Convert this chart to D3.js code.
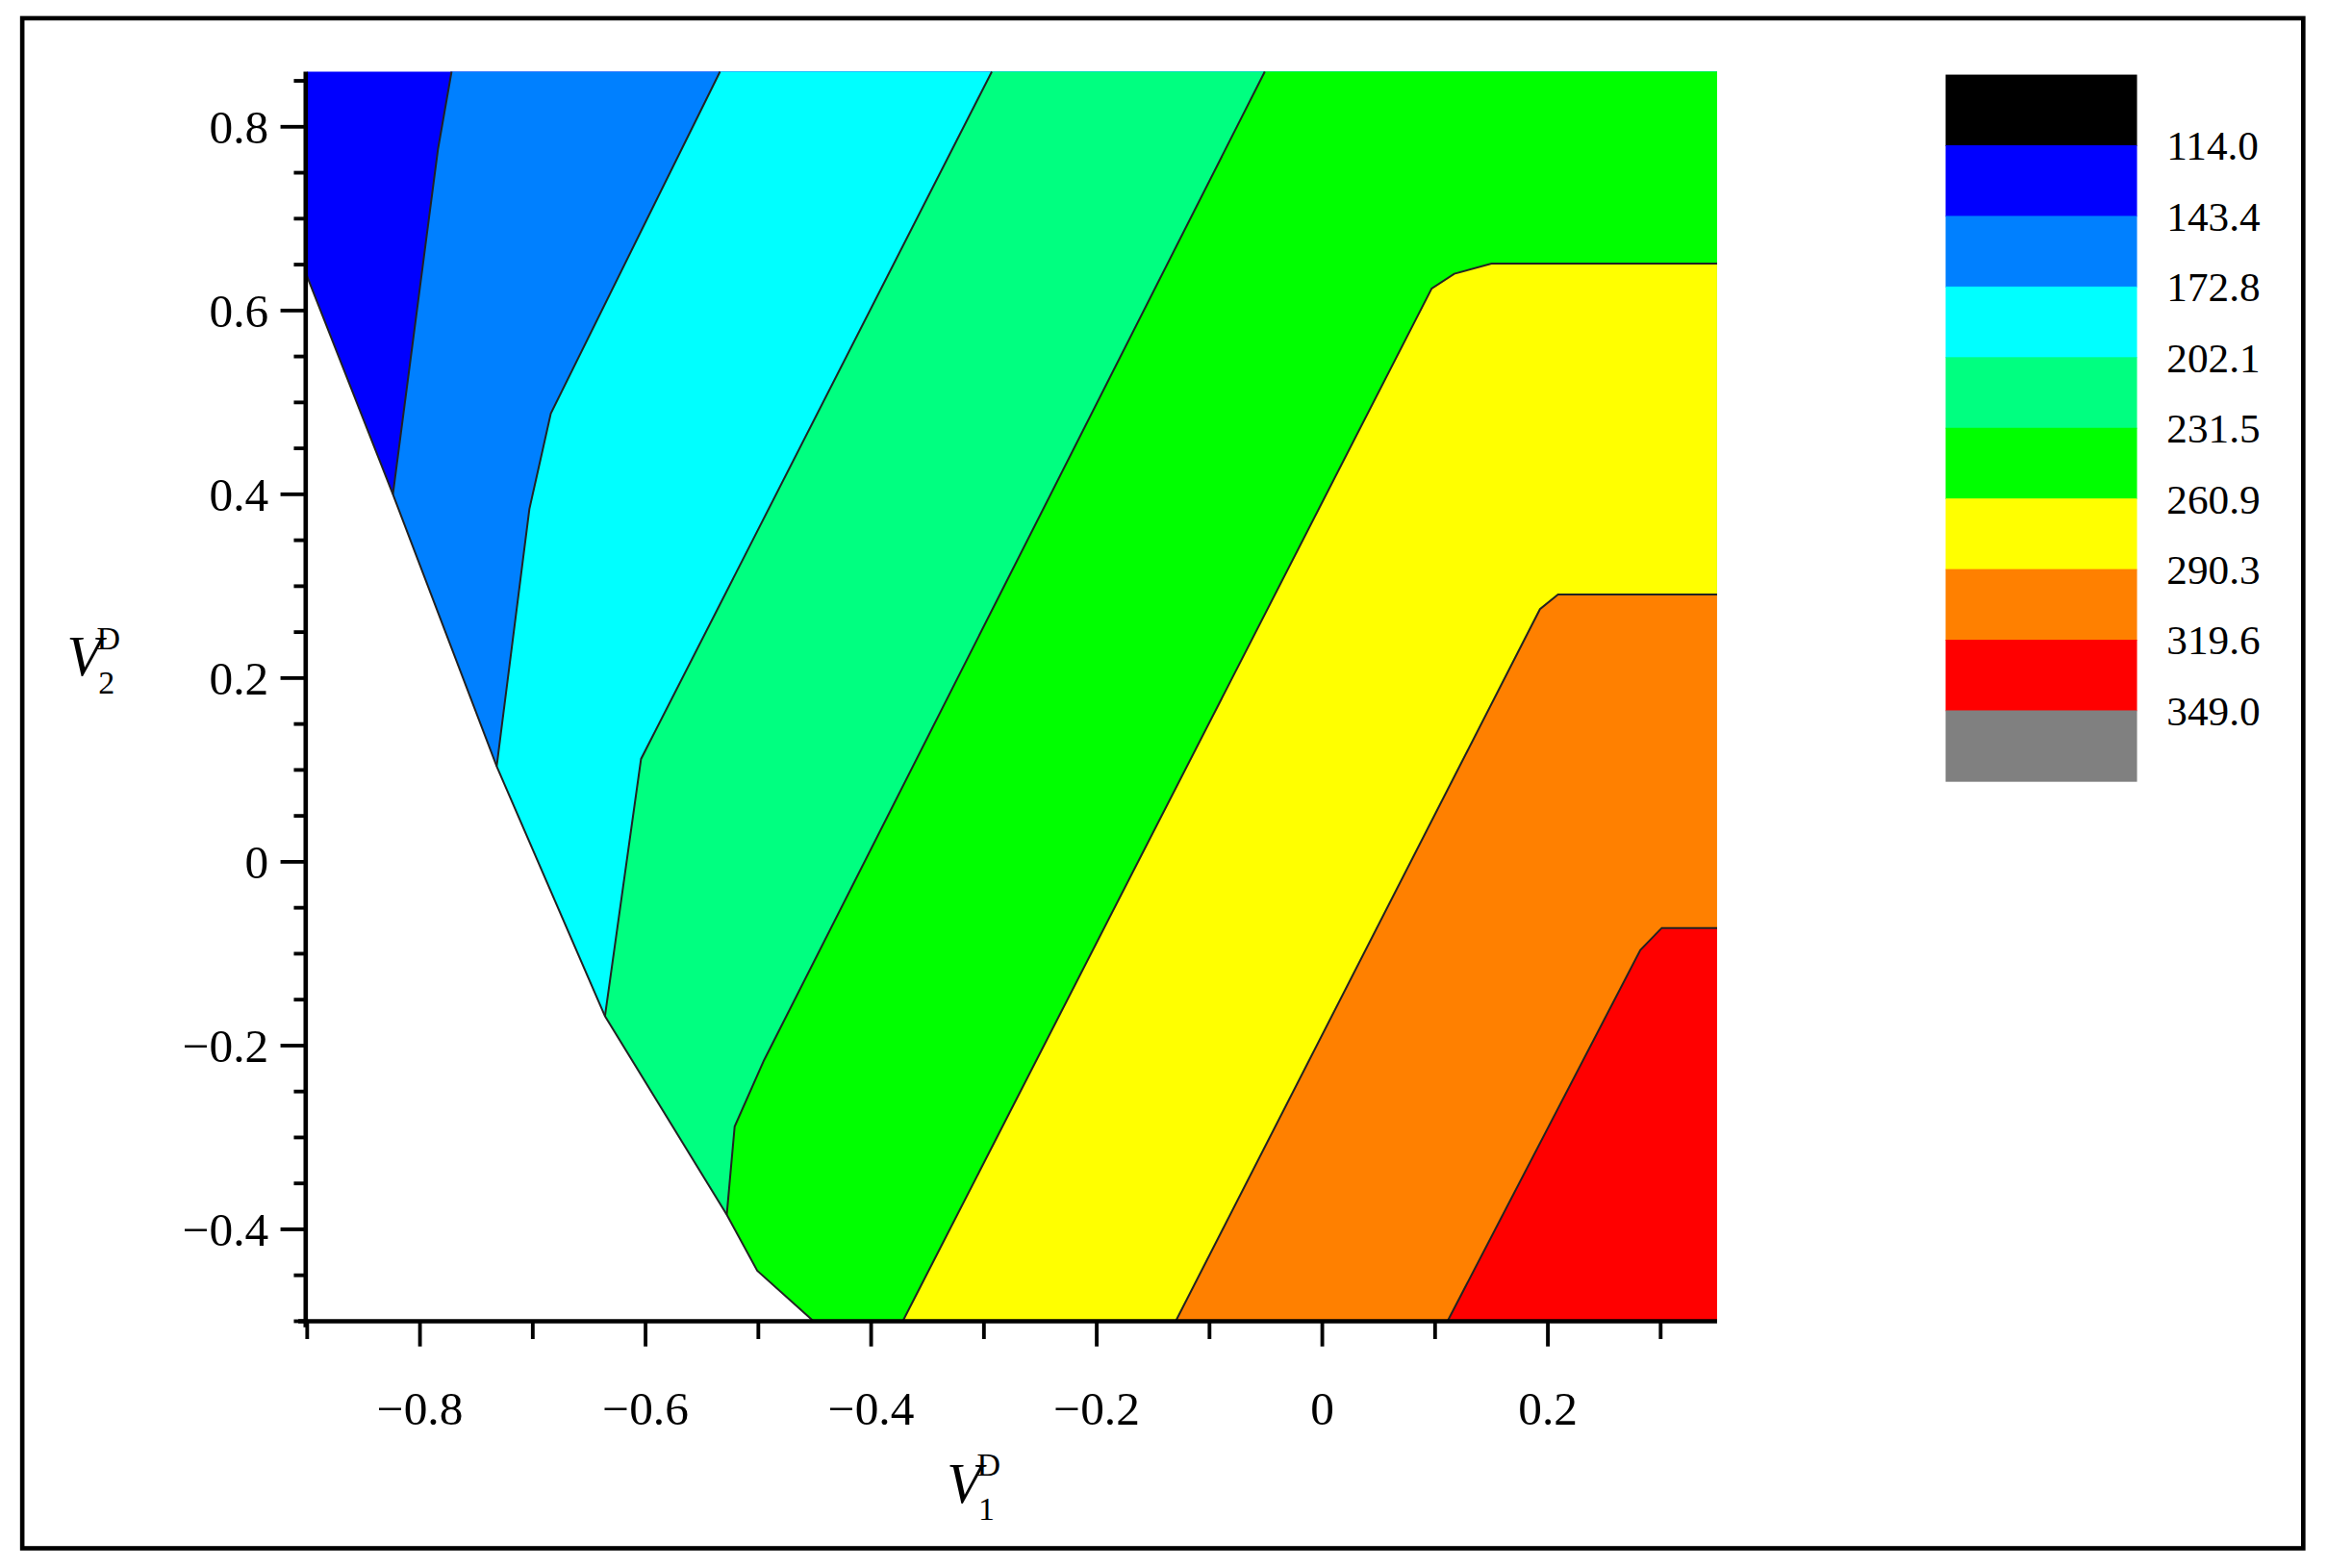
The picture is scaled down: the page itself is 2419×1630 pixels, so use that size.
<!DOCTYPE html>
<html><head><meta charset="utf-8">
<script src="https://cdn.jsdelivr.net/npm/d3@7"></script>
<style>html,body{margin:0;padding:0;background:#fff;}svg{display:block;}</style>
</head><body>
<script>
// Contour boundary polylines (V1, V2)
const feasibleEdge = [[-0.901,0.64],[-0.824,0.40],[-0.732,0.104],[-0.636,-0.168],[-0.528,-0.384],[-0.501,-0.445],[-0.451,-0.5]];
const line1 = [[-0.772,0.86],[-0.784,0.776],[-0.824,0.40]];
const line2 = [[-0.534,0.86],[-0.684,0.488],[-0.703,0.384],[-0.732,0.104]];
const line3 = [[-0.293,0.86],[-0.604,0.112],[-0.636,-0.168]];
const line4 = [[-0.051,0.86],[-0.495,-0.216],[-0.521,-0.288],[-0.528,-0.384]];
const line5 = [[0.35,0.651],[0.15,0.651],[0.117,0.64],[0.097,0.624],[-0.372,-0.5]];
const line6 = [[0.35,0.291],[0.209,0.291],[0.193,0.275],[-0.130,-0.5]];
const line7 = [[0.35,-0.072],[0.301,-0.072],[0.282,-0.096],[0.111,-0.5]];
const contourLines = [line1,line2,line3,line4,line5,line6,line7];
const regionColors = ["#0000ff","#0080ff","#00ffff","#00ff80","#00ff00","#ffff00","#ff8000","#ff0000"];
const legendColors = ["#000000","#0000ff","#0080ff","#00ffff","#00ff80","#00ff00","#ffff00","#ff8000","#ff0000","#808080"];
const legendLabels = ["114.0","143.4","172.8","202.1","231.5","260.9","290.3","319.6","349.0"];
const xTicks = [-0.8,-0.6,-0.4,-0.2,0,0.2];
const yTicks = [-0.4,-0.2,0,0.2,0.4,0.6,0.8];

const W=1568,H=1056;
const svg=d3.select("body").append("svg").attr("width",2419).attr("height",1630).attr("viewBox",`0 0 ${W} ${H}`);
svg.append("rect").attr("x",15).attr("y",12).attr("width",1537).attr("height",1031).attr("fill","#fff").attr("stroke","#000").attr("stroke-width",3);

const x=d3.scaleLinear().domain([-0.9,0.35]).range([207,1157]);
const y=d3.scaleLinear().domain([-0.5,0.86]).range([890,48]);
const line=d3.line().x(d=>x(d[0])).y(d=>y(d[1]));
const g=svg.append("g");
const BR=[0.35,-0.5],TR=[0.35,0.86];
g.append("path").attr("d",line([[-0.9,0.86],TR,BR,[-0.9,-0.5]])+"Z").attr("fill",regionColors[0]);
contourLines.forEach((L,i)=>{
  let pts=L.slice();
  const last=pts[pts.length-1];
  if(last[1]>-0.5) pts.push([last[0],-0.5]);
  if(pts[0][1]>=0.86) pts=pts.concat([BR,TR]); else pts=pts.concat([BR]);
  g.append("path").attr("d",line(pts)+"Z").attr("fill",regionColors[i+1]);
});
g.append("path").attr("d",line(feasibleEdge.concat([[-0.9,-0.5]]))+"Z").attr("fill","#fff");
contourLines.concat([feasibleEdge]).forEach(L=>{
  g.append("path").attr("d",line(L)).attr("fill","none").attr("stroke","#222").attr("stroke-width",1.3);
});

const font="'Liberation Serif','Times New Roman',serif";
const fmt=v=>v===0?"0":(v<0?"\u2212":"")+Math.abs(v).toFixed(1);
const xa=svg.append("g").attr("transform","translate(0,890)");
xa.append("line").attr("x1",201).attr("x2",1157).attr("stroke","#000").attr("stroke-width",3);
d3.range(-0.9,0.351,0.1).forEach(v=>{
  const major=xTicks.some(t=>Math.abs(t-v)<1e-6);
  xa.append("line").attr("x1",x(v)).attr("x2",x(v)).attr("y1",0).attr("y2",major?17:12).attr("stroke","#000").attr("stroke-width",2.5);
});
xTicks.forEach(v=>xa.append("text").attr("x",x(v)).attr("y",70).attr("text-anchor","middle").attr("font-family",font).attr("font-size",32).text(fmt(v)));
const ya=svg.append("g").attr("transform","translate(206,0)");
ya.append("line").attr("y1",48).attr("y2",894).attr("stroke","#000").attr("stroke-width",3);
d3.range(-0.5,0.86,0.05).forEach(v=>{
  const major=yTicks.some(t=>Math.abs(t-v)<1e-6);
  ya.append("line").attr("x1",0).attr("x2",major?-17:-8).attr("y1",y(v)).attr("y2",y(v)).attr("stroke","#000").attr("stroke-width",2.5);
});
yTicks.forEach(v=>ya.append("text").attr("x",-25).attr("y",y(v)+11).attr("text-anchor","end").attr("font-family",font).attr("font-size",32).text(fmt(v)));

// axis titles
const t1=svg.append("text").attr("x",638).attr("y",1012).attr("font-family",font).attr("font-size",38);
t1.append("tspan").attr("font-style","italic").text("V");
t1.append("tspan").attr("font-size",22).attr("dx",-2).attr("dy",12).text("1");
t1.append("tspan").attr("font-size",22).attr("dx",-12).attr("dy",-30).text("D");
const t2=svg.append("text").attr("x",45).attr("y",455).attr("font-family",font).attr("font-size",38);
t2.append("tspan").attr("font-style","italic").text("V");
t2.append("tspan").attr("font-size",22).attr("dx",-2).attr("dy",12).text("2");
t2.append("tspan").attr("font-size",22).attr("dx",-12).attr("dy",-30).text("D");

// legend
const lh=47.6;
legendColors.forEach((c,i)=>svg.append("rect").attr("x",1311).attr("y",50+i*lh).attr("width",129).attr("height",lh+0.5).attr("fill",c));
legendLabels.forEach((t,i)=>svg.append("text").attr("x",1460).attr("y",50+(i+1)*lh+10).attr("font-family",font).attr("font-size",28).text(t));
</script>
</body></html>
